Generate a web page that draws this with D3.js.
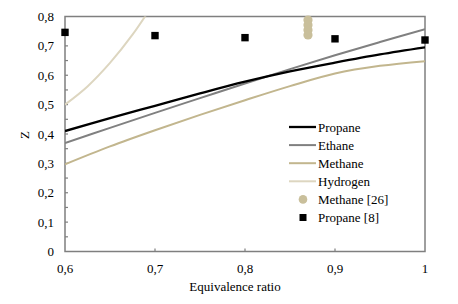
<html>
<head>
  <meta charset="utf-8" />
  <script src="https://cdnjs.cloudflare.com/ajax/libs/d3/7.8.5/d3.min.js"></script>
  <style>
    body { margin: 0; background: #fff; }
  </style>
</head>
<body>
  <svg width="458" height="304"></svg>
  <script>
  // equivalence ratio grid for the model curves
  var phi = [0.6, 0.65, 0.7, 0.75, 0.8, 0.85, 0.9, 0.95, 1.0];
  var propane = [0.41, 0.454, 0.496, 0.538, 0.578, 0.613, 0.643, 0.671, 0.695];
  var ethane = [0.369, 0.421, 0.472, 0.522, 0.572, 0.621, 0.668, 0.713, 0.757];
  var methane = [0.297, 0.358, 0.413, 0.465, 0.515, 0.563, 0.606, 0.632, 0.648];
  var hydrogenPhi = [0.6, 0.625, 0.65, 0.675, 0.7];
  var hydrogen = [0.5, 0.562, 0.642, 0.738, 0.852];

  var methaneExpPhi = [0.87, 0.87, 0.87, 0.87];
  var methaneExp = [0.788, 0.771, 0.754, 0.737];
  var propaneExpPhi = [0.6, 0.7, 0.8, 0.9, 1.0];
  var propaneExp = [0.746, 0.735, 0.728, 0.724, 0.72];

  var xTicks = [0.6, 0.7, 0.8, 0.9, 1.0];
  var yTicks = [0, 0.1, 0.2, 0.3, 0.4, 0.5, 0.6, 0.7, 0.8];

  var svg = d3.select("svg");
  var font = "Liberation Serif";
  var mL = 65, mR = 425, mT = 16.5, mB = 251.5;

  var x = d3.scaleLinear().domain([0.6, 1]).range([mL, mR]);
  var y = d3.scaleLinear().domain([0, 0.8]).range([mB, mT]);
  var fmt = d => String(d).replace(".", ",");

  svg.append("clipPath").attr("id", "plot")
    .append("rect").attr("x", mL).attr("y", mT)
    .attr("width", mR - mL).attr("height", mB - mT);

  // minor ticks every 0.05 on y, inside
  var yMinor = d3.range(1, 16).map(i => i * 0.05);
  svg.selectAll(".ytick").data(yMinor).enter().append("line")
    .attr("x1", mL).attr("x2", mL + 3)
    .attr("y1", d => y(d)).attr("y2", d => y(d))
    .attr("stroke", "#7f7f7f").attr("stroke-width", 1.2);
  svg.selectAll(".xtick").data([0.7, 0.8, 0.9]).enter().append("line")
    .attr("x1", d => x(d)).attr("x2", d => x(d))
    .attr("y1", mB).attr("y2", mB - 3)
    .attr("stroke", "#7f7f7f").attr("stroke-width", 1.2);

  // frame
  svg.append("rect").attr("x", mL).attr("y", mT)
    .attr("width", mR - mL).attr("height", mB - mT)
    .attr("fill", "none").attr("stroke", "#7f7f7f").attr("stroke-width", 1.5);

  svg.selectAll(".ylab").data(yTicks).enter().append("text")
    .attr("x", mL - 11).attr("y", d => y(d) + 4.5)
    .attr("text-anchor", "end").style("font", "13px " + font).text(fmt);
  svg.selectAll(".xlab").data(xTicks).enter().append("text")
    .attr("x", d => x(d)).attr("y", mB + 21)
    .attr("text-anchor", "middle").style("font", "13px " + font).text(fmt);

  svg.append("text").attr("x", 235).attr("y", 291)
    .attr("text-anchor", "middle").style("font", "13px " + font).text("Equivalence ratio");
  svg.append("text").attr("transform", "translate(29,135) rotate(-90)")
    .attr("text-anchor", "middle").style("font", "13px " + font).text("Z");

  var g = svg.append("g").attr("clip-path", "url(#plot)");
  var line = d3.line().x(d => x(d[0])).y(d => y(d[1])).curve(d3.curveCatmullRom);

  var series = [
    { name: "Propane", xs: phi, ys: propane, color: "#000000", w: 2.3 },
    { name: "Ethane", xs: phi, ys: ethane, color: "#808080", w: 2 },
    { name: "Methane", xs: phi, ys: methane, color: "#c2b68e", w: 2 },
    { name: "Hydrogen", xs: hydrogenPhi, ys: hydrogen, color: "#ddd6c0", w: 2 }
  ];
  series.slice().reverse().forEach(s => {
    g.append("path")
      .attr("d", line(s.xs.map((v, i) => [v, s.ys[i]])))
      .attr("fill", "none").attr("stroke", s.color).attr("stroke-width", s.w);
  });

  svg.selectAll(".mexp").data(methaneExp).enter().append("circle")
    .attr("cx", (d, i) => x(methaneExpPhi[i])).attr("cy", d => y(d))
    .attr("r", 4.6).attr("fill", "#c9bf9b");
  svg.selectAll(".pexp").data(propaneExp).enter().append("rect")
    .attr("x", (d, i) => x(propaneExpPhi[i]) - 3.7).attr("y", d => y(d) - 3.7)
    .attr("width", 7.4).attr("height", 7.4).attr("fill", "#000");

  // legend
  var ly = 127, step = 18.1, lx = 289;
  series.forEach((s, i) => {
    svg.append("line").attr("x1", lx).attr("x2", lx + 27)
      .attr("y1", ly + i * step).attr("y2", ly + i * step)
      .attr("stroke", s.color).attr("stroke-width", s.w);
    svg.append("text").attr("x", lx + 29).attr("y", ly + i * step + 4.5)
      .style("font", "13px " + font).text(s.name);
  });
  svg.append("circle").attr("cx", lx + 14).attr("cy", ly + 4 * step).attr("r", 4.3).attr("fill", "#c9bf9b");
  svg.append("text").attr("x", lx + 29).attr("y", ly + 4 * step + 4.5).style("font", "13px " + font).text("Methane [26]");
  svg.append("rect").attr("x", lx + 10.5).attr("y", ly + 5 * step - 3.5).attr("width", 7).attr("height", 7).attr("fill", "#000");
  svg.append("text").attr("x", lx + 29).attr("y", ly + 5 * step + 4.5).style("font", "13px " + font).text("Propane [8]");
  </script>
</body>
</html>
